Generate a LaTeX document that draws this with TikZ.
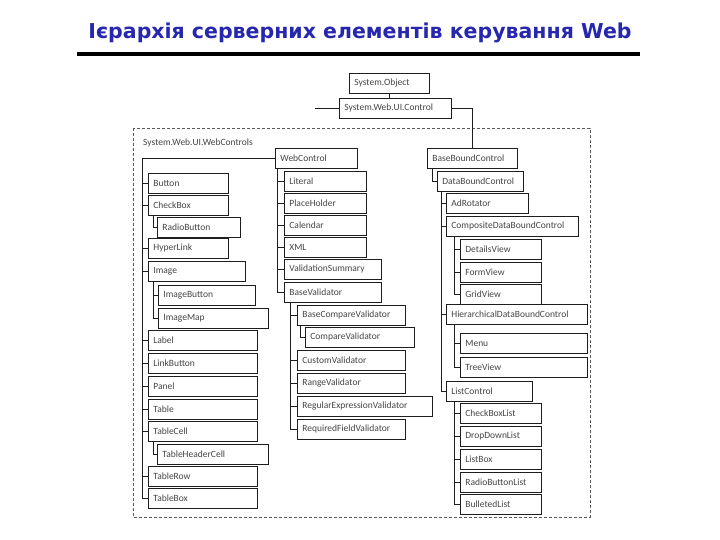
\documentclass[tikz,border=0pt]{standalone}
\usepackage{fontspec}
\setmainfont{Carlito}
\newfontfamily\titlefont{DejaVu Sans}
\definecolor{titleblue}{RGB}{38,38,175}
\definecolor{boxtext}{RGB}{70,70,70}
\definecolor{boxline}{RGB}{30,30,30}
\tikzset{
  bx/.style={draw=boxline, line width=0.8pt, rectangle, anchor=north west,
    inner xsep=5pt, inner ysep=0pt, minimum height=20pt, align=left,
    font=\fontsize{9.5}{11}\selectfont, text=boxtext},
  ln/.style={draw=boxline, line width=0.8pt},
}
\newcommand{\Bx}[5]{\pgfmathsetlengthmacro\bxtw{#4pt-10pt}%
  \node[bx, minimum width=#4pt, text width=\bxtw] (#1) at (#2,#3) {#5};}
\begin{document}
\begin{tikzpicture}[x=1pt,y=-1pt]
\useasboundingbox (0,0) rectangle (720,540);
\fill[white] (0,0) rectangle (720,540);
% title
\node[font=\titlefont\bfseries\fontsize{20.5}{24}\selectfont, text=titleblue] (title) at (360,33) {Ієрархія серверних елементів керування Web};
\draw[line width=4pt] (77,54) -- (640,54);
% top
\Bx{SysObj}{349}{73}{80}{System.Object}
\Bx{Control}{339}{98}{112}{System.Web.UI.Control}
\draw[ln] (SysObj.south) -- (SysObj.south |- Control.north);
\draw[ln] (Control.west) -- ++(-24,0) coordinate (stub);
% dashed frame
\draw[gray!70!black, dash pattern=on 3pt off 2pt, line width=0.7pt] (133,128) rectangle (590,517);
\node[anchor=west, font=\fontsize{9.5}{11}\selectfont, text=boxtext, inner sep=0pt] (ns) at (143,143) {System.Web.UI.WebControls};
% WebControl branch
\Bx{WebControl}{275}{148}{82}{WebControl}
\Bx{Button}{148}{173}{80}{Button}
\Bx{CheckBox}{148}{195}{80}{CheckBox}
\Bx{RadioButton}{157}{217}{83}{RadioButton}
\Bx{HyperLink}{148}{238}{80}{HyperLink}
\Bx{Image}{148}{261}{97}{Image}
\Bx{ImageButton}{158}{285}{97}{ImageButton}
\Bx{ImageMap}{158}{308}{110}{ImageMap}
\Bx{Label}{148}{330}{109}{Label}
\Bx{LinkButton}{148}{353}{109}{LinkButton}
\Bx{Panel}{148}{376}{109}{Panel}
\Bx{Table}{148}{399}{109}{Table}
\Bx{TableCell}{148}{421}{109}{TableCell}
\Bx{TableHeaderCell}{157}{444}{111}{TableHeaderCell}
\Bx{TableRow}{148}{466}{109}{TableRow}
\Bx{TableBox}{148}{488}{109}{TableBox}
\draw[ln] (WebControl.west) -| ([xshift=-6pt]TableBox.west) -- (TableBox.west);
\foreach \n in {Button,CheckBox,HyperLink,Image,Label,LinkButton,Panel,Table,TableCell,TableRow}
  \draw[ln] (\n.west) -- ++(-6,0);
\draw[ln] ([xshift=5pt]CheckBox.south west) |- (RadioButton.west);
\draw[ln] ([xshift=5pt]Image.south west) |- (ImageMap.west);
\draw[ln] (ImageButton.west) -- ++(-5,0);
\draw[ln] ([xshift=5pt]TableCell.south west) |- (TableHeaderCell.west);
% middle column
\Bx{Literal}{284}{171}{82}{Literal}
\Bx{PlaceHolder}{284}{193}{82}{PlaceHolder}
\Bx{Calendar}{284}{215}{82}{Calendar}
\Bx{XML}{284}{237}{82}{XML}
\Bx{ValidationSummary}{284}{259}{97}{ValidationSummary}
\Bx{BaseValidator}{284}{282}{97}{BaseValidator}
\draw[ln] ([xshift=2pt]WebControl.south west) |- (BaseValidator.west);
\foreach \n in {Literal,PlaceHolder,Calendar,XML,ValidationSummary}
  \draw[ln] (\n.west) -- ++(-7,0);
\Bx{BaseCompareValidator}{297}{305}{108}{BaseCompareValidator}
\Bx{CompareValidator}{305}{327}{109}{CompareValidator}
\Bx{CustomValidator}{297}{350}{108}{CustomValidator}
\Bx{RangeValidator}{297}{373}{108}{RangeValidator}
\Bx{RegularExpressionValidator}{297}{396}{135}{RegularExpressionValidator}
\Bx{RequiredFieldValidator}{297}{419}{108}{RequiredFieldValidator}
\draw[ln] ([xshift=6pt]BaseValidator.south west) |- (RequiredFieldValidator.west);
\foreach \n in {BaseCompareValidator,CustomValidator,RangeValidator,RegularExpressionValidator}
  \draw[ln] (\n.west) -- ++(-7,0);
\draw[ln] ([xshift=3pt]BaseCompareValidator.south west) |- (CompareValidator.west);
% right column
\Bx{BaseBound}{427}{148}{90}{BaseBoundControl}
\draw[ln] (Control.east) -| (BaseBound.north);
\Bx{DataBound}{437}{171}{86}{DataBoundControl}
\draw[ln] ([xshift=5pt]BaseBound.south west) |- (DataBound.west);
\Bx{AdRotator}{446}{193}{82}{AdRotator}
\Bx{Composite}{446}{216}{132}{CompositeDataBoundControl}
\Bx{DetailsView}{460}{239}{81}{DetailsView}
\Bx{FormView}{460}{262}{81}{FormView}
\Bx{GridView}{460}{284}{81}{GridView}
\Bx{Hierarchical}{446}{304}{141}{HierarchicalDataBoundControl}
\Bx{Menu}{460}{333}{127}{Menu}
\Bx{TreeView}{460}{357}{127}{TreeView}
\Bx{ListControl}{446}{381}{86}{ListControl}
\Bx{CheckBoxList}{460}{403}{81}{CheckBoxList}
\Bx{DropDownList}{460}{426}{81}{DropDownList}
\Bx{ListBox}{460}{449}{81}{ListBox}
\Bx{RadioButtonList}{460}{472}{81}{RadioButtonList}
\Bx{BulletedList}{460}{494}{81}{BulletedList}
\draw[ln] ([xshift=4pt]DataBound.south west) |- (ListControl.west);
\foreach \n in {AdRotator,Composite,Hierarchical}
  \draw[ln] (\n.west) -- ++(-5,0);
\draw[ln] ([xshift=8pt]Composite.south west) |- (GridView.west);
\foreach \n in {DetailsView,FormView}
  \draw[ln] (\n.west) -- ++(-6,0);
\draw[ln] ([xshift=8pt]Hierarchical.south west) |- (TreeView.west);
\draw[ln] (Menu.west) -- ++(-6,0);
\draw[ln] ([xshift=8pt]ListControl.south west) |- (BulletedList.west);
\foreach \n in {CheckBoxList,DropDownList,ListBox,RadioButtonList}
  \draw[ln] (\n.west) -- ++(-6,0);
\end{tikzpicture}
\end{document}
